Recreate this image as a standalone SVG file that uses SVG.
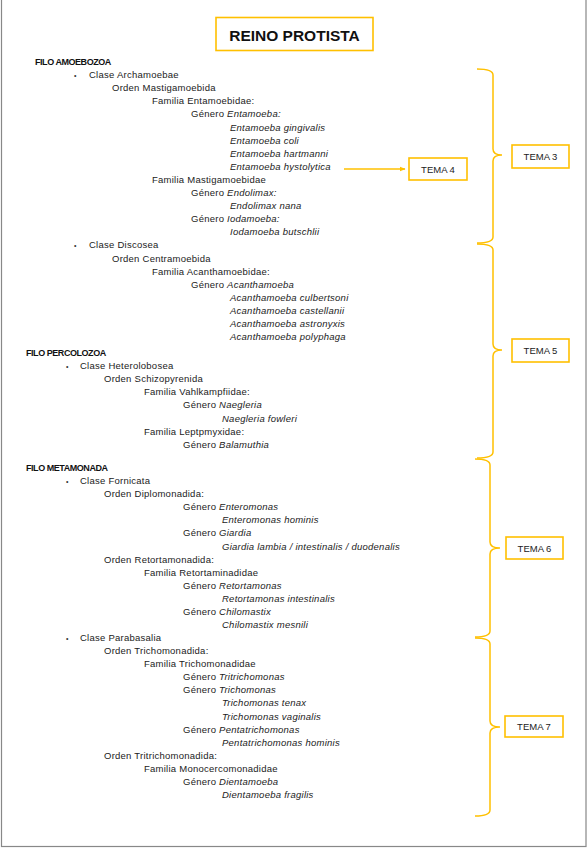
<svg xmlns="http://www.w3.org/2000/svg" width="587" height="848" viewBox="0 0 587 848">
<style>
.t{font-family:"Liberation Sans",Arial,sans-serif;font-size:9.5px;letter-spacing:0.25px;fill:#222}
.b{font-weight:bold;font-size:9px;letter-spacing:-0.45px;fill:#111}
.i{font-style:italic}
.bul{font-family:"Liberation Sans",Arial,sans-serif;font-size:7px;fill:#333}
.box{fill:#fff;stroke:#FFC000;stroke-width:1.6}
.tl{font-family:"Liberation Sans",Arial,sans-serif;font-size:9.5px;fill:#222;text-anchor:middle}
.br{fill:none;stroke:#FFC000;stroke-width:1.5}
</style>
<defs>
<marker id="ah" viewBox="0 0 10 10" refX="9" refY="5" markerWidth="6" markerHeight="6" orient="auto" markerUnits="userSpaceOnUse">
<path d="M0,1 L10,5 L0,9 z" fill="#FFC000"/>
</marker>
</defs>
<rect x="0" y="0" width="587" height="848" fill="#fff"/>
<rect x="1.5" y="-2" width="584.5" height="848.5" fill="none" stroke="#888" stroke-width="1.2"/>

<g id="title">
<rect class="box" x="216" y="17.5" width="157" height="33"/>
<text x="294.5" y="40.5" text-anchor="middle" style="font-family:'Liberation Sans',Arial,sans-serif;font-size:15.5px;font-weight:bold;fill:#111">REINO PROTISTA</text>
</g>

<g id="amoebozoa">
<text class="t b" x="35" y="65">FILO AMOEBOZOA</text>
<text class="bul" x="74" y="77.5">•</text>
<text class="t" x="89" y="78.1">Clase Archamoebae</text>
<text class="t" x="112" y="91.2">Orden Mastigamoebida</text>
<text class="t" x="152" y="104.3">Familia Entamoebidae:</text>
<text class="t" x="191" y="117.4">Género <tspan class="i">Entamoeba:</tspan></text>
<text class="t i" x="230" y="130.5">Entamoeba gingivalis</text>
<text class="t i" x="230" y="143.6">Entamoeba coli</text>
<text class="t i" x="230" y="156.7">Entamoeba hartmanni</text>
<text class="t i" x="230" y="169.8">Entamoeba hystolytica</text>
<text class="t" x="152" y="182.9">Familia Mastigamoebidae</text>
<text class="t" x="191" y="196">Género <tspan class="i">Endolimax:</tspan></text>
<text class="t i" x="230" y="209.1">Endolimax nana</text>
<text class="t" x="191" y="222.2">Género <tspan class="i">Iodamoeba:</tspan></text>
<text class="t i" x="230" y="235.3">Iodamoeba butschlii</text>
<text class="bul" x="74" y="247.8">•</text>
<text class="t" x="89" y="248.4">Clase Discosea</text>
<text class="t" x="112" y="261.5">Orden Centramoebida</text>
<text class="t" x="152" y="274.6">Familia Acanthamoebidae:</text>
<text class="t" x="191" y="287.7">Género <tspan class="i">Acanthamoeba</tspan></text>
<text class="t i" x="230" y="300.8">Acanthamoeba culbertsoni</text>
<text class="t i" x="230" y="313.9">Acanthamoeba castellanii</text>
<text class="t i" x="230" y="327">Acanthamoeba astronyxis</text>
<text class="t i" x="230" y="340.1">Acanthamoeba polyphaga</text>
</g>

<g id="percolozoa">
<text class="t b" x="26" y="356">FILO PERCOLOZOA</text>
<text class="bul" x="66" y="368.5">•</text>
<text class="t" x="80" y="369.1">Clase Heterolobosea</text>
<text class="t" x="104" y="382.2">Orden Schizopyrenida</text>
<text class="t" x="144" y="395.3">Familia Vahlkampfiidae:</text>
<text class="t" x="183" y="408.4">Género <tspan class="i">Naegleria</tspan></text>
<text class="t i" x="222" y="421.5">Naegleria fowleri</text>
<text class="t" x="144" y="434.6">Familia Leptpmyxidae:</text>
<text class="t" x="183" y="447.7">Género <tspan class="i">Balamuthia</tspan></text>
</g>

<g id="metamonada">
<text class="t b" x="26" y="471">FILO METAMONADA</text>
<text class="bul" x="66" y="483.5">•</text>
<text class="t" x="80" y="484.1">Clase Fornicata</text>
<text class="t" x="104" y="497.2">Orden Diplomonadida:</text>
<text class="t" x="183" y="510.2">Género <tspan class="i">Enteromonas</tspan></text>
<text class="t i" x="222" y="523.3">Enteromonas hominis</text>
<text class="t" x="183" y="536.4">Género <tspan class="i">Giardia</tspan></text>
<text class="t i" x="222" y="549.5">Giardia lambia / intestinalis / duodenalis</text>
<text class="t" x="104" y="562.6">Orden Retortamonadida:</text>
<text class="t" x="144" y="575.6">Familia Retortaminadidae</text>
<text class="t" x="183" y="588.7">Género <tspan class="i">Retortamonas</tspan></text>
<text class="t i" x="222" y="601.8">Retortamonas intestinalis</text>
<text class="t" x="183" y="614.9">Género <tspan class="i">Chilomastix</tspan></text>
<text class="t i" x="222" y="628">Chilomastix mesnili</text>
<text class="bul" x="66" y="640.5">•</text>
<text class="t" x="80" y="641">Clase Parabasalia</text>
<text class="t" x="104" y="654.1">Orden Trichomonadida:</text>
<text class="t" x="144" y="667.2">Familia Trichomonadidae</text>
<text class="t" x="183" y="680.3">Género <tspan class="i">Tritrichomonas</tspan></text>
<text class="t" x="183" y="693.4">Género <tspan class="i">Trichomonas</tspan></text>
<text class="t i" x="222" y="706.4">Trichomonas tenax</text>
<text class="t i" x="222" y="719.5">Trichomonas vaginalis</text>
<text class="t" x="183" y="732.6">Género <tspan class="i">Pentatrichomonas</tspan></text>
<text class="t i" x="222" y="745.7">Pentatrichomonas hominis</text>
<text class="t" x="104" y="758.8">Orden Tritrichomonadida:</text>
<text class="t" x="144" y="771.8">Familia Monocercomonadidae</text>
<text class="t" x="183" y="784.9">Género <tspan class="i">Dientamoeba</tspan></text>
<text class="t i" x="222" y="798">Dientamoeba fragilis</text>
</g>

<g id="connectors">
<line x1="344" y1="169" x2="405" y2="169" stroke="#FFC000" stroke-width="1.5" marker-end="url(#ah)"/>
<path class="br" d="M477,69 Q493,69 493,75 L493,149 Q493,155 502,155 Q493,155 493,161 L493,237 Q493,243 477,243"/>
<path class="br" d="M477,244 Q493,244 493,250 L493,344 Q493,350 502,350 Q493,350 493,356 L493,452 Q493,458 477,458"/>
<path class="br" d="M475,459 Q490,459 490,465 L490,542 Q490,548 500,548 Q490,548 490,554 L490,631 Q490,637 475,637"/>
<path class="br" d="M475,638 Q490,638 490,644 L490,721 Q490,727 500,727 Q490,727 490,733 L490,810 Q490,816 475,816"/>
</g>

<g id="tema4">
<rect class="box" x="409" y="158" width="58" height="22"/>
<text class="tl" x="438" y="172.5">TEMA 4</text>
</g>
<g id="tema3">
<rect class="box" x="512" y="145" width="57" height="23"/>
<text class="tl" x="540.5" y="160">TEMA 3</text>
</g>
<g id="tema5">
<rect class="box" x="512" y="339" width="57" height="23"/>
<text class="tl" x="540.5" y="354">TEMA 5</text>
</g>
<g id="tema6">
<rect class="box" x="506" y="537" width="57" height="22"/>
<text class="tl" x="534.5" y="551.5">TEMA 6</text>
</g>
<g id="tema7">
<rect class="box" x="505" y="716" width="58" height="21"/>
<text class="tl" x="534" y="730">TEMA 7</text>
</g>
</svg>
